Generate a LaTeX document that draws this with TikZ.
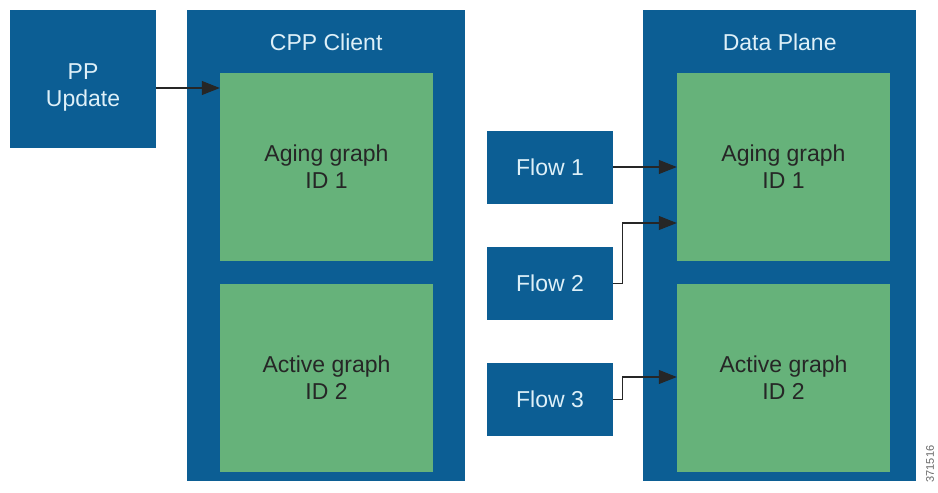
\documentclass[tikz,border=0pt]{standalone}
\usepackage{fontspec}
\setmainfont{Liberation Sans}
\usepackage{tikz}
\usetikzlibrary{arrows.meta}
\definecolor{cblue}{RGB}{12,94,148}
\definecolor{cgreen}{RGB}{102,178,122}
\definecolor{ctext}{RGB}{222,240,248}
\tikzset{
bluebox/.style={fill=cblue, inner sep=0pt, text=ctext, align=center, font=\fontsize{23}{27}\selectfont},
greenbox/.style={fill=cgreen, inner sep=0pt, text=black!85, align=center, font=\fontsize{23}{27}\selectfont},
flowarrow/.style={draw=black!85, line width=1.2pt, -{Triangle[length=18pt,width=14pt]}}
}
\begin{document}
\begin{tikzpicture}[x=1pt, y=-1pt]
\useasboundingbox (0,0) rectangle (938,493);
% source and the two big boxes
\node[bluebox, minimum width=146, minimum height=138] (ppupd) at (83,79) {};
\node[text=ctext, align=center, font=\fontsize{23}{27}\selectfont] (pptext) at ([yshift=-8pt]ppupd.center) {PP\\Update};
\node[bluebox, minimum width=278, minimum height=471, anchor=north west] (cpp) at (187,10) {};
\node[bluebox, minimum width=273, minimum height=471, anchor=north west] (dplane) at (643,10) {};
\node[text=ctext, font=\fontsize{23}{28}\selectfont] (cpptitle) at (cpp.north |- 0,42) {CPP Client};
\node[text=ctext, font=\fontsize{23}{28}\selectfont] (dptitle) at (dplane.north |- 0,42) {Data Plane};
% graphs
\foreach \nm/\x/\y/\txt in {cppage/326.5/167/{Aging graph\\ID 1}, cppact/326.5/377.5/{Active graph\\ID 2}, dpage/783.5/167/{Aging graph\\ID 1}, dpact/783.5/377.5/{Active graph\\ID 2}}{
\node[greenbox, minimum width=213, minimum height=188] (\nm) at (\x,\y) {\txt};
}
% flows
\foreach \nm/\y/\txt in {flowa/167/Flow 1, flowb/283.5/Flow 2, flowc/399.5/Flow 3}{
\node[bluebox, minimum width=126, minimum height=73] (\nm) at (550,\y) {\txt};
}
\coordinate (cppin) at (220,88);
\draw[flowarrow] (ppupd.east |- cppin) -- (cppin -| cppage.west);
\draw[flowarrow] (flowa.east) -- (flowa.east -| dpage.west);
\draw[flowarrow] (flowb.east) -- ++(9,0) |- (dpage.west |- 0,223);
\draw[flowarrow] (flowc.east) -- ++(9,0) |- (dpact.west |- 0,377);
\node[rotate=90, text=black!60, font=\fontsize{11}{12}\selectfont] (figid) at (930,464) {371516};
\end{tikzpicture}
\end{document}
